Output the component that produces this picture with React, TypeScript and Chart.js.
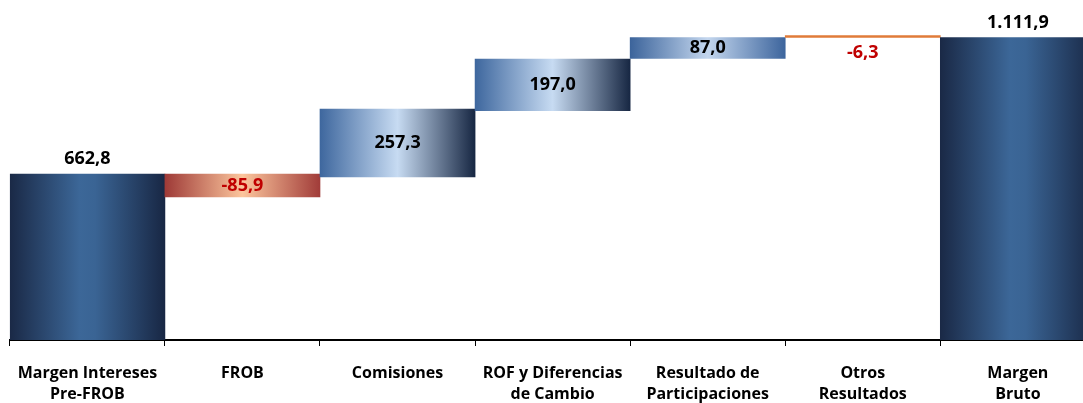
import React, { useEffect, useRef } from "react";
import { Chart, registerables } from "chart.js";

Chart.register(...registerables);

const categories: string[][] = [
  ["Margen Intereses", "Pre-FROB"],
  ["FROB"],
  ["Comisiones"],
  ["ROF y Diferencias", "de Cambio"],
  ["Resultado de", "Participaciones"],
  ["Otros", "Resultados"],
  ["Margen", "Bruto"],
];

// value shown on each bar
const displayValues = [662.8, -85.9, 257.3, 197.0, 87.0, -6.3, 1111.9];

// floating bar extents (axis starts near 116.7)
const axisMin = 116.7;
const axisMax = 1235.3;
const barLow = [axisMin, 587.2, 653.0, 871.1, 1043.5, 1111.9, axisMin];
const barHigh = [662.8, 662.8, 876.7, 1041.2, 1111.3, 1118.5, 1111.9];

const barKinds = ["total", "down", "up", "up", "upSym", "line", "total"];
const labelPlacement = ["above", "inside", "inside", "inside", "inside", "below", "above"];

const gradientStops: Record<string, [number, string][]> = {
  total: [
    [0, "#1a2946"],
    [0.45, "#3c6798"],
    [0.55, "#3a6494"],
    [1, "#182744"],
  ],
  up: [
    [0, "#3e679e"],
    [0.5, "#c7dbf2"],
    [1, "#172743"],
  ],
  upSym: [
    [0, "#3c649b"],
    [0.5, "#c3d6ee"],
    [1, "#3d659d"],
  ],
  down: [
    [0, "#9e3a37"],
    [0.5, "#fcc69d"],
    [1, "#a13c39"],
  ],
};

function formatValue(v: number): string {
  const fixed = Math.abs(v).toFixed(1);
  const [intPart, dec] = fixed.split(".");
  const withDots = intPart.replace(/\B(?=(\d{3})+(?!\d))/g, ".");
  return (v < 0 ? "-" : "") + withDots + "," + dec;
}

const valueLabelsPlugin = {
  id: "valueLabels",
  afterDatasetsDraw(chart: any) {
    const ctx = chart.ctx;
    const meta = chart.getDatasetMeta(0);
    ctx.save();
    ctx.font = "bold 18px 'Open Sans'";
    ctx.textAlign = "center";
    meta.data.forEach((el: any, i: number) => {
      const v = displayValues[i];
      const text = formatValue(v);
      ctx.fillStyle = v < 0 ? "#c00000" : "#000000";
      const top = Math.min(el.y, el.base);
      const bottom = Math.max(el.y, el.base);
      const pl = labelPlacement[i];
      if (pl === "above") {
        ctx.textBaseline = "alphabetic";
        ctx.fillText(text, el.x, top - 10);
      } else if (pl === "below") {
        ctx.textBaseline = "middle";
        ctx.fillText(text, el.x, bottom + 15);
      } else {
        ctx.textBaseline = "middle";
        ctx.fillText(text, el.x, (top + bottom) / 2);
      }
    });
    ctx.restore();
  },
};

export default function App() {
  const canvasRef = useRef<HTMLCanvasElement | null>(null);

  useEffect(() => {
    const canvas = canvasRef.current;
    if (!canvas) return;
    const data = barLow.map((lo, i) => [lo, barHigh[i]]);
    const chart = new Chart(canvas, {
      type: "bar",
      data: {
        labels: categories,
        datasets: [
          {
            data: data as any,
            barPercentage: 1,
            categoryPercentage: 1,
            borderWidth: 0,
            borderSkipped: false,
            backgroundColor: (c: any) => {
              const i = c.dataIndex;
              const kind = barKinds[i];
              if (kind === "line") return "#e07b39";
              const chartRef = c.chart;
              const xs = chartRef.scales.x;
              if (!xs || !chartRef.chartArea) return gradientStops[kind][1][1];
              const w = (chartRef.chartArea.right - chartRef.chartArea.left) / categories.length;
              const cx = xs.getPixelForValue(i);
              const g = chartRef.ctx.createLinearGradient(cx - w / 2, 0, cx + w / 2, 0);
              gradientStops[kind].forEach(([o, col]) => g.addColorStop(o, col));
              return g;
            },
          },
        ],
      },
      options: {
        responsive: false,
        animation: false,
        layout: { padding: { left: 9, right: 4.6, top: 0, bottom: 0 } },
        plugins: {
          legend: { display: false },
          tooltip: { enabled: false },
        },
        scales: {
          x: {
            grid: {
              offset: true,
              drawOnChartArea: false,
              tickLength: 6,
              color: "#000000",
              lineWidth: 1,
            },
            border: { color: "#000000", width: 2 },
            ticks: {
              color: "#000000",
              font: { family: "'Open Sans'", weight: "bold", size: 16, lineHeight: 1.3 },
              padding: 17,
              maxRotation: 0,
              autoSkip: false,
            },
            afterFit: (s: any) => {
              s.height = 63;
            },
          },
          y: {
            display: false,
            min: axisMin,
            max: axisMax,
          },
        },
      },
      plugins: [valueLabelsPlugin],
    });
    return () => chart.destroy();
  }, []);

  return (
    <div
      style={{
        position: "fixed",
        left: 0,
        top: 0,
        width: 1083,
        height: 403,
        overflow: "hidden",
        background: "#ffffff",
      }}
    >
      <canvas ref={canvasRef} width={1100} height={403} style={{ display: "block" }} />
    </div>
  );
}
